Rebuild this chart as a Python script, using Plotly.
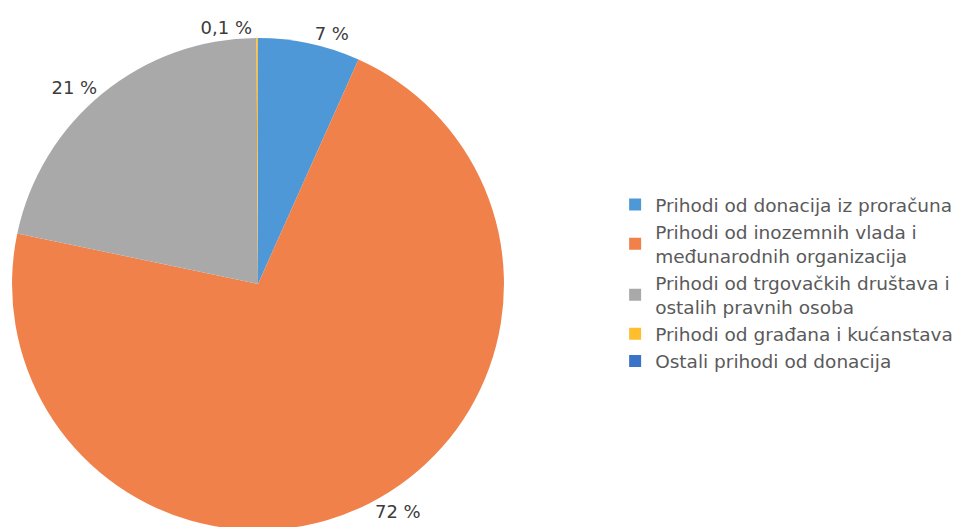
import plotly.graph_objects as go

labels = [
    "Prihodi od donacija iz proračuna",
    "Prihodi od inozemnih vlada i<br>međunarodnih organizacija",
    "Prihodi od trgovačkih društava i<br>ostalih pravnih osoba",
    "Prihodi od građana i kućanstava",
    "Ostali prihodi od donacija",
]
values = [6.7, 71.6, 21.6, 0.1, 0.0]
text_labels = ["7 %", "72 %", "21 %", "0,1 %", ""]
colors = ["#4F98D8", "#F0814A", "#A9A9A9", "#FFBE2E", "#3A74C8"]

fig = go.Figure(
    go.Pie(
        labels=labels,
        values=values,
        text=text_labels,
        textinfo="text",
        textposition="outside",
        sort=False,
        direction="clockwise",
        rotation=0,
        marker=dict(colors=colors, line=dict(width=0)),
        outsidetextfont=dict(family="DejaVu Sans", size=18, color="#3C3C3C"),
        domain=dict(x=[0.0041, 0.5135], y=[0.0095, 0.943]),
        automargin=False,
        showlegend=True,
    )
)

fig.update_layout(
    width=966,
    height=527,
    margin=dict(l=0, r=0, t=0, b=0),
    paper_bgcolor="white",
    plot_bgcolor="white",
    font=dict(family="DejaVu Sans", size=18.5, color="#5A5A5A"),
    legend=dict(
        x=0.6285,
        y=0.478,
        xanchor="left",
        yanchor="middle",
        font=dict(family="DejaVu Sans", size=18.5, color="#5A5A5A"),
        itemwidth=30,
        bgcolor="rgba(0,0,0,0)",
    ),
)

fig.write_html("out.html")
